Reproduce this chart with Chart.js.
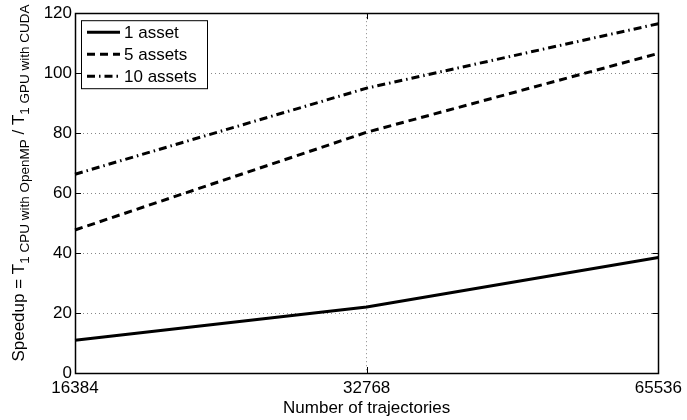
<!DOCTYPE html>
<html><head><meta charset="utf-8">
<script src="https://cdn.jsdelivr.net/npm/chart.js@4"></script>
<style>html,body{margin:0;padding:0;background:#fff}#wrap{width:687px;height:420px}</style>
</head><body><div id="wrap"><canvas id="c" width="687" height="420"></canvas></div>
<script>
const categories = ['16384', '32768', '65536'];
const seriesNames = ['1 asset', '5 assets', '10 assets'];
const asset1 = [10.9, 22.0, 38.5];
const assets5 = [47.7, 80.3, 106.6];
const assets10 = [66.3, 95.0, 116.5];
const yTicks = [0, 20, 40, 60, 80, 100, 120];
const xTitle = 'Number of trajectories';

const FONT = '"Liberation Sans", Arial, sans-serif';
const FS = 17;

const framePlugin = {
  id: 'frame',
  afterDatasetsDraw(chart) {
    const ctx = chart.ctx, a = chart.chartArea;
    const xs = chart.scales.x, ys = chart.scales.y;
    ctx.save();
    ctx.strokeStyle = '#000';
    ctx.lineWidth = 1;
    // inner ticks
    const tl = 6;
    ctx.beginPath();
    yTicks.forEach(v => {
      const py = Math.round(ys.getPixelForValue(v)) + 0.5;
      ctx.moveTo(a.left, py); ctx.lineTo(a.left + tl, py);
      ctx.moveTo(a.right, py); ctx.lineTo(a.right - tl, py);
    });
    categories.forEach((c, i) => {
      const px = Math.round(xs.getPixelForValue(i)) + 0.5;
      ctx.moveTo(px, a.bottom); ctx.lineTo(px, a.bottom - tl);
      ctx.moveTo(px, a.top); ctx.lineTo(px, a.top + tl);
    });
    ctx.stroke();
    // box
    ctx.lineWidth = 1.5;
    ctx.strokeRect(Math.round(a.left) + 0.5, Math.round(a.top) + 0.5, Math.round(a.right - a.left), Math.round(a.bottom - a.top));
    ctx.lineWidth = 1;
    // legend
    const lx = a.left + 6, ly = a.top + 7, lw = 126, lh = 68;
    ctx.fillStyle = '#fff';
    ctx.fillRect(lx, ly, lw, lh);
    ctx.strokeRect(lx + 0.5, ly + 0.5, lw, lh);
    ctx.font = FS + 'px ' + FONT;
    ctx.textBaseline = 'middle';
    chart.data.datasets.forEach((ds, i) => {
      const yy = ly + 12 + i * 22;
      ctx.save();
      ctx.strokeStyle = ds.borderColor;
      ctx.lineWidth = ds.borderWidth;
      ctx.setLineDash(ds.borderDash || []);
      ctx.beginPath(); ctx.moveTo(lx + 6, yy); ctx.lineTo(lx + 39, yy); ctx.stroke();
      ctx.restore();
      ctx.fillStyle = '#000';
      ctx.textAlign = 'left';
      ctx.fillText(ds.label, lx + 43, yy + 1);
    });
    // y title with subscripts
    ctx.save();
    ctx.translate(24, 183);
    ctx.rotate(-Math.PI / 2);
    const parts = [
      ['Speedup = T', 17, 0],
      ['1 CPU with OpenMP', 13.5, 5],
      [' / T', 17, 0],
      ['1 GPU with CUDA', 13.5, 5]
    ];
    let total = 0;
    parts.forEach(p => { ctx.font = p[1] + 'px ' + FONT; total += ctx.measureText(p[0]).width; });
    let x = -total / 2;
    ctx.textAlign = 'left';
    ctx.textBaseline = 'alphabetic';
    ctx.fillStyle = '#000';
    parts.forEach(p => {
      ctx.font = p[1] + 'px ' + FONT;
      ctx.fillText(p[0], x, p[2]);
      x += ctx.measureText(p[0]).width;
    });
    ctx.restore();
    ctx.restore();
  }
};

new Chart(document.getElementById('c'), {
  type: 'line',
  data: {
    labels: categories,
    datasets: [
      { label: seriesNames[0], data: asset1, borderColor: '#000', borderWidth: 3, borderDash: [], pointRadius: 0, fill: false, tension: 0 },
      { label: seriesNames[1], data: assets5, borderColor: '#000', borderWidth: 3, borderDash: [8, 5], pointRadius: 0, fill: false, tension: 0 },
      { label: seriesNames[2], data: assets10, borderColor: '#000', borderWidth: 3, borderDash: [8, 4, 1.5, 4], pointRadius: 0, fill: false, tension: 0 }
    ]
  },
  options: {
    responsive: false,
    animation: false,
    layout: { padding: { left: 0, right: 25, top: 6, bottom: 0 } },
    plugins: { legend: { display: false }, tooltip: { enabled: false } },
    scales: {
      x: {
        type: 'category',
        offset: false,
        grid: { color: '#888', lineWidth: 1, drawTicks: false },
        border: { display: false, dash: [1, 3] },
        ticks: { color: '#000', font: { family: FONT, size: FS }, padding: 5, maxRotation: 0, autoSkip: false },
        title: { display: true, text: xTitle, color: '#000', font: { family: FONT, size: FS }, padding: { top: -3, bottom: 1 } },
        afterFit(s) { s.height = 47; }
      },
      y: {
        min: 0, max: 120,
        afterBuildTicks(s) { s.ticks = yTicks.map(v => ({ value: v })); },
        grid: { color: '#888', lineWidth: 1, drawTicks: false },
        border: { display: false, dash: [1, 3] },
        ticks: { color: '#000', font: { family: FONT, size: FS }, padding: 3 },
        afterFit(s) { s.width = 75; }
      }
    }
  },
  plugins: [framePlugin]
});
</script>
</body></html>
